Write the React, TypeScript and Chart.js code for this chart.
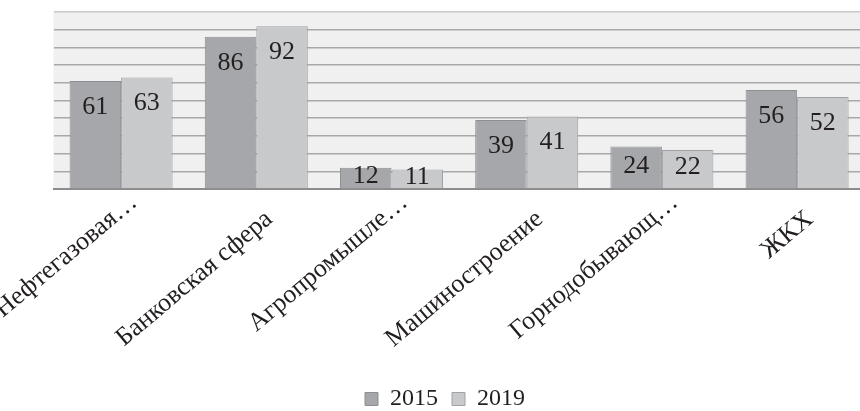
import React, { useEffect, useRef } from "react";
import { Chart, registerables } from "chart.js";

Chart.register(...registerables);

const categories = [
  "Нефтегазовая…",
  "Банковская сфера",
  "Агропромышле…",
  "Машиностроение",
  "Горнодобывающ…",
  "ЖКХ",
];
const values2015 = [61, 86, 12, 39, 24, 56];
const values2019 = [63, 92, 11, 41, 22, 52];
const seriesNames = ["2015", "2019"];
const yMax = 100;
const yStep = 10;

const FONT = '"Liberation Serif", "Times New Roman", serif';
const TEXT = "#231f20";

const bgPlugin = {
  id: "plotBg",
  beforeDraw(chart: any) {
    const { ctx, chartArea } = chart;
    ctx.save();
    ctx.fillStyle = "#f0f0f0";
    ctx.fillRect(chartArea.left, chartArea.top, chart.width - chartArea.left, chartArea.bottom - chartArea.top);
    ctx.restore();
  },
};

const labelPlugin = {
  id: "barLabels",
  afterDatasetsDraw(chart: any) {
    const { ctx } = chart;
    ctx.save();
    ctx.font = `26px ${FONT}`;
    ctx.fillStyle = TEXT;
    ctx.textAlign = "center";
    ctx.textBaseline = "middle";
    chart.data.datasets.forEach((ds: any, di: number) => {
      const meta = chart.getDatasetMeta(di);
      meta.data.forEach((el: any, i: number) => {
        const h = el.base - el.y;
        const off = Math.min(26, h / 2 - 1.5);
        ctx.fillText(String(ds.data[i]), el.x, el.y + off);
      });
    });
    ctx.restore();
  },
};

export default function App() {
  const ref = useRef<HTMLCanvasElement | null>(null);
  useEffect(() => {
    if (!ref.current) return;
    const chart = new Chart(ref.current, {
      type: "bar",
      data: {
        labels: categories,
        datasets: [
          {
            label: seriesNames[0],
            data: values2015,
            backgroundColor: "#a6a7ab",
            borderColor: "#8e8f93",
            borderWidth: 1,
          },
          {
            label: seriesNames[1],
            data: values2019,
            backgroundColor: "#c8c9cb",
            borderColor: "#a0a1a4",
            borderWidth: 1,
          },
        ],
      },
      options: {
        animation: false,
        responsive: false,
        devicePixelRatio: 1,
        layout: { padding: { left: 25.3, right: 5.3, top: 12, bottom: 0 } },
        datasets: { bar: { categoryPercentage: 0.762, barPercentage: 1 } },
        scales: {
          x: {
            grid: { display: false, drawTicks: false },
            border: { display: true, color: "#8c8c8c", width: 2 },
            ticks: {
              autoSkip: false,
              minRotation: 40,
              maxRotation: 40,
              padding: 0,
              labelOffset: 13,
              color: TEXT,
              font: (c: any) => {
                const lab = categories[c.index] || "";
                return { family: FONT, size: 26, lineHeight: lab.endsWith("…") ? 1.0 : 2.7 };
              },
            },
            afterFit: (s: any) => {
              s.paddingLeft = 0;
              s.paddingRight = 0;
              s.height = 184;
            },
          },
          y: {
            min: 0,
            max: yMax,
            ticks: { display: false, stepSize: yStep },
            border: { display: false },
            grid: {
              drawTicks: false,
              color: (c: any) => (c.tick && c.tick.value === yMax ? "#c8c8c8" : c.tick && c.tick.value === 0 ? "#8c8c8c" : "#a8a8a8"),
              lineWidth: 1.5,
            },
            afterFit: (s: any) => {
              s.width = 28.2;
            },
          },
        },
        plugins: {
          legend: {
            position: "bottom",
            labels: {
              boxWidth: 13,
              boxHeight: 13,
              padding: 14,
              color: TEXT,
              font: { family: FONT, size: 24 },
            },
          },
          tooltip: { enabled: false },
        },
      },
      plugins: [bgPlugin, labelPlugin],
    } as any);
    return () => chart.destroy();
  }, []);
  return (
    <div style={{ position: "fixed", left: 0, top: 0, width: 860, height: 411, overflow: "hidden", background: "#fff" }}>
      <canvas ref={ref} width={870} height={421} style={{ width: 870, height: 421, display: "block" }} />
    </div>
  );
}
